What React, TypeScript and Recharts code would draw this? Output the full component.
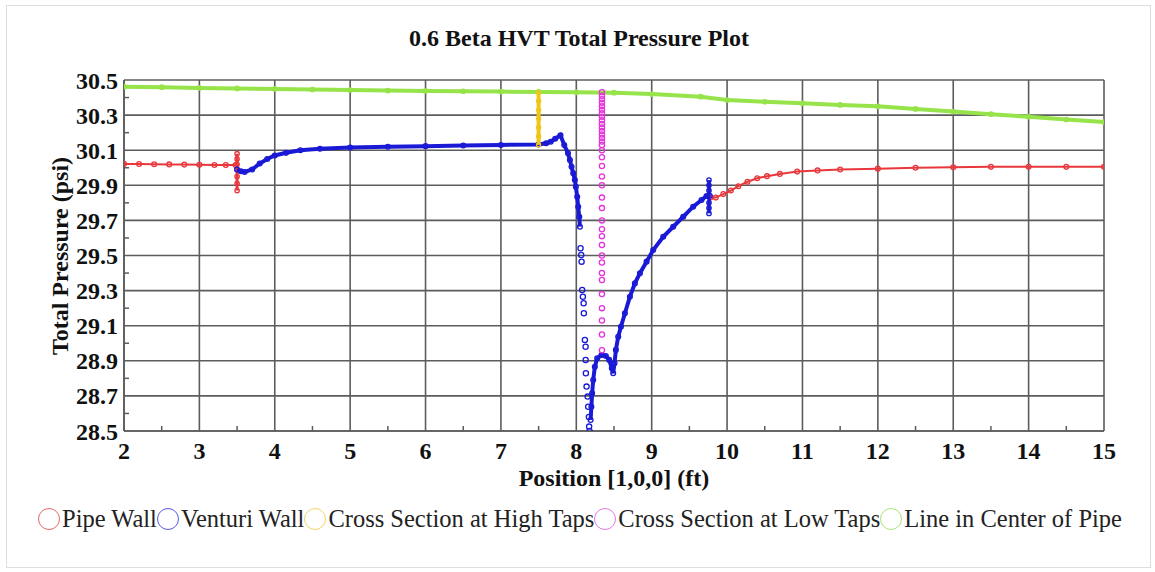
import { ScatterChart, Scatter, XAxis, YAxis, CartesianGrid } from "recharts";

const xTicks = [2, 3, 4, 5, 6, 7, 8, 9, 10, 11, 12, 13, 14, 15];
const xMinorTicks = [2.5, 3.5, 4.5, 5.5, 6.5, 7.5, 8.5, 9.5, 10.5, 11.5, 12.5, 13.5, 14.5];
const yTicks = [28.5, 28.7, 28.9, 29.1, 29.3, 29.5, 29.7, 29.9, 30.1, 30.3, 30.5];
const yMinorTicks = [28.6, 28.8, 29.0, 29.2, 29.4, 29.6, 29.8, 30.0, 30.2, 30.4];

const pipeWallUpstream = [
  { x: 2.0, y: 30.022 }, { x: 2.2, y: 30.021 }, { x: 2.4, y: 30.02 }, { x: 2.6, y: 30.019 },
  { x: 2.8, y: 30.018 }, { x: 3.0, y: 30.017 }, { x: 3.2, y: 30.016 }, { x: 3.35, y: 30.015 },
  { x: 3.48, y: 30.015 },
];
const pipeWallTap = [
  { x: 3.5, y: 30.08 }, { x: 3.5, y: 30.05 }, { x: 3.5, y: 30.02 }, { x: 3.5, y: 29.99 },
  { x: 3.5, y: 29.95 }, { x: 3.5, y: 29.91 }, { x: 3.5, y: 29.87 },
];
const pipeWallDownstream = [
  { x: 9.78, y: 29.83 }, { x: 9.85, y: 29.83 }, { x: 9.95, y: 29.85 }, { x: 10.05, y: 29.87 },
  { x: 10.15, y: 29.895 }, { x: 10.27, y: 29.92 }, { x: 10.4, y: 29.94 }, { x: 10.53, y: 29.952 },
  { x: 10.7, y: 29.965 }, { x: 10.93, y: 29.978 }, { x: 11.2, y: 29.985 }, { x: 11.5, y: 29.99 },
  { x: 12.0, y: 29.995 }, { x: 12.5, y: 30.0 }, { x: 13.0, y: 30.003 }, { x: 13.5, y: 30.005 },
  { x: 14.0, y: 30.005 }, { x: 14.5, y: 30.005 }, { x: 15.0, y: 30.005 },
];

const venturiInlet = [
  { x: 3.5, y: 29.99 }, { x: 3.55, y: 29.98 }, { x: 3.6, y: 29.976 }, { x: 3.7, y: 29.99 },
  { x: 3.8, y: 30.024 }, { x: 3.9, y: 30.05 }, { x: 4.0, y: 30.07 }, { x: 4.15, y: 30.085 },
  { x: 4.34, y: 30.1 }, { x: 4.6, y: 30.108 }, { x: 5.0, y: 30.115 }, { x: 5.5, y: 30.12 },
  { x: 6.0, y: 30.123 }, { x: 6.5, y: 30.127 }, { x: 7.0, y: 30.13 }, { x: 7.5, y: 30.133 },
  { x: 7.6, y: 30.14 }, { x: 7.66, y: 30.148 }, { x: 7.72, y: 30.165 }, { x: 7.79, y: 30.185 },
  { x: 7.84, y: 30.13 }, { x: 7.89, y: 30.082 }, { x: 7.915, y: 30.044 }, { x: 7.937, y: 30.006 },
  { x: 7.959, y: 29.968 }, { x: 7.981, y: 29.93 }, { x: 7.994, y: 29.892 }, { x: 8.012, y: 29.835 },
  { x: 8.025, y: 29.778 }, { x: 8.039, y: 29.721 }, { x: 8.048, y: 29.664 },
];
const venturiThroat = [
  { x: 8.056, y: 29.541 }, { x: 8.065, y: 29.503 }, { x: 8.07, y: 29.465 },
  { x: 8.078, y: 29.303 }, { x: 8.087, y: 29.265 }, { x: 8.097, y: 29.228 }, { x: 8.1, y: 29.171 },
  { x: 8.114, y: 29.019 }, { x: 8.123, y: 28.98 }, { x: 8.124, y: 28.905 }, { x: 8.127, y: 28.829 },
  { x: 8.136, y: 28.753 }, { x: 8.15, y: 28.696 }, { x: 8.158, y: 28.638 }, { x: 8.167, y: 28.58 },
  { x: 8.17, y: 28.525 }, { x: 8.175, y: 28.5 },
];
const venturiOutlet = [
  { x: 8.19, y: 28.563 }, { x: 8.2, y: 28.638 }, { x: 8.21, y: 28.715 }, { x: 8.224, y: 28.79 },
  { x: 8.246, y: 28.866 }, { x: 8.277, y: 28.914 }, { x: 8.335, y: 28.933 }, { x: 8.392, y: 28.927 },
  { x: 8.436, y: 28.905 }, { x: 8.471, y: 28.857 }, { x: 8.489, y: 28.829 }, { x: 8.507, y: 28.886 },
  { x: 8.525, y: 28.962 }, { x: 8.556, y: 29.037 }, { x: 8.592, y: 29.094 }, { x: 8.645, y: 29.171 },
  { x: 8.711, y: 29.265 }, { x: 8.777, y: 29.341 }, { x: 8.844, y: 29.399 }, { x: 8.932, y: 29.465 },
  { x: 9.02, y: 29.531 }, { x: 9.153, y: 29.607 }, { x: 9.285, y: 29.664 }, { x: 9.418, y: 29.721 },
  { x: 9.55, y: 29.778 }, { x: 9.661, y: 29.816 }, { x: 9.728, y: 29.839 }, { x: 9.77, y: 29.84 },
];
const venturiTap = [
  { x: 9.76, y: 29.93 }, { x: 9.76, y: 29.9 }, { x: 9.76, y: 29.87 }, { x: 9.76, y: 29.8 },
  { x: 9.76, y: 29.77 }, { x: 9.76, y: 29.74 },
];

const highTaps = [
  { x: 7.5, y: 30.43 }, { x: 7.5, y: 30.38 }, { x: 7.5, y: 30.33 }, { x: 7.5, y: 30.28 },
  { x: 7.5, y: 30.23 }, { x: 7.5, y: 30.18 }, { x: 7.5, y: 30.13 },
];

const lowTapsValues = [
  30.43, 30.41, 30.39, 30.37, 30.35, 30.33, 30.31, 30.29, 30.27, 30.25, 30.23, 30.21, 30.19,
  30.17, 30.15, 30.13, 30.1, 30.06, 30.01, 29.95, 29.9, 29.83, 29.77, 29.7, 29.65, 29.61, 29.56,
  29.5, 29.46, 29.4, 29.36, 29.28, 29.2, 29.13, 29.05, 28.96,
];
const lowTaps = lowTapsValues.map((y) => ({ x: 8.34, y }));

const centerLine = [
  { x: 2, y: 30.462 }, { x: 2.5, y: 30.459 }, { x: 3, y: 30.455 }, { x: 3.5, y: 30.452 },
  { x: 4, y: 30.449 }, { x: 4.5, y: 30.446 }, { x: 5, y: 30.443 }, { x: 5.5, y: 30.44 },
  { x: 6, y: 30.438 }, { x: 6.5, y: 30.436 }, { x: 7, y: 30.434 }, { x: 7.5, y: 30.432 },
  { x: 8, y: 30.43 }, { x: 8.5, y: 30.428 }, { x: 9, y: 30.42 }, { x: 9.65, y: 30.405 },
  { x: 10, y: 30.386 }, { x: 10.5, y: 30.376 }, { x: 11, y: 30.367 }, { x: 11.5, y: 30.358 },
  { x: 12, y: 30.35 }, { x: 12.5, y: 30.335 }, { x: 13, y: 30.32 }, { x: 13.5, y: 30.305 },
  { x: 14, y: 30.29 }, { x: 14.5, y: 30.275 }, { x: 15, y: 30.26 },
];

const RED = "#e8383c";
const BLUE = "#1a1ad6";
const GOLD = "#f2c414";
const MAGENTA = "#e632dc";
const GREEN = "#96e34a";
const GRID = "#5c5c5c";

const legendItems = [
  { label: "Pipe Wall", color: "#e46a6a" },
  { label: "Venturi Wall", color: "#5a5ae0" },
  { label: "Cross Section at High Taps", color: "#f0d66a" },
  { label: "Cross Section at Low Taps", color: "#e47ae0" },
  { label: "Line in Center of Pipe", color: "#a8e47a" },
];

const FONT = "'Liberation Serif', 'Times New Roman', serif";

const ring = (color: string, r: number, w: number) => (props: any) => (
  <circle cx={props.cx} cy={props.cy} r={r} fill="none" stroke={color} strokeWidth={w} />
);

const series = [
  { id: "pipeUp", data: pipeWallUpstream, color: RED, lineWidth: 2, r: 2.4 },
  { id: "pipeTap", data: pipeWallTap, color: RED, lineWidth: 3, r: 2.2 },
  { id: "pipeDown", data: pipeWallDownstream, color: RED, lineWidth: 2, r: 2.4 },
  { id: "ventIn", data: venturiInlet, color: BLUE, lineWidth: 4, r: 2.4 },
  { id: "ventThroat", data: venturiThroat, color: BLUE, lineWidth: 0, r: 2.6 },
  { id: "ventOut", data: venturiOutlet, color: BLUE, lineWidth: 4, r: 2.4 },
  { id: "ventTap", data: venturiTap, color: BLUE, lineWidth: 3.5, r: 2.2 },
  { id: "center", data: centerLine, color: GREEN, lineWidth: 4, r: 2.2 },
  { id: "high", data: highTaps, color: GOLD, lineWidth: 4, r: 2 },
  { id: "low", data: lowTaps, color: MAGENTA, lineWidth: 0, r: 2.6 },
];

const tickStyle = { fill: "#111", fontSize: 24, fontWeight: 700, fontFamily: FONT };
const noLabel = () => <g />;

export default function App() {
  return (
    <div style={{ position: "absolute", left: 0, top: 0, width: 1155, height: 572, background: "#fff", fontFamily: FONT }}>
      <div style={{ position: "absolute", left: 6, top: 5, width: 1143, height: 561, border: "1px solid #dedede" }} />
      <div style={{ position: "absolute", top: 25, left: 0, width: 1158, textAlign: "center", fontSize: 24, fontWeight: 700, color: "#111" }}>
        0.6 Beta HVT Total Pressure Plot
      </div>
      <ScatterChart width={1155} height={572} margin={{ top: 80, right: 51, bottom: 111, left: 54 }}>
        <CartesianGrid stroke={GRID} strokeWidth={1.6} />
        <XAxis
          type="number"
          dataKey="x"
          domain={[2, 15]}
          ticks={xTicks}
          interval={0}
          height={30}
          tickLine={false}
          tickSize={4}
          tickMargin={7}
          axisLine={{ stroke: GRID, strokeWidth: 1.6 }}
          tick={tickStyle}
          allowDataOverflow
        />
        <XAxis
          xAxisId="minor"
          type="number"
          dataKey="x"
          domain={[2, 15]}
          ticks={xMinorTicks}
          interval={0}
          mirror
          axisLine={false}
          tickSize={5}
          tickLine={{ stroke: GRID, strokeWidth: 1.5 }}
          tick={noLabel}
          allowDataOverflow
        />
        <YAxis
          type="number"
          dataKey="y"
          domain={[28.5, 30.5]}
          ticks={yTicks}
          interval={0}
          width={70}
          tickLine={false}
          tickSize={4}
          tickMargin={2}
          axisLine={{ stroke: GRID, strokeWidth: 1.6 }}
          tick={tickStyle}
          tickFormatter={(v: number) => v.toFixed(1)}
          allowDataOverflow
        />
        <YAxis
          yAxisId="minor"
          type="number"
          dataKey="y"
          domain={[28.5, 30.5]}
          ticks={yMinorTicks}
          interval={0}
          mirror
          axisLine={false}
          tickSize={5}
          tickLine={{ stroke: GRID, strokeWidth: 1.5 }}
          tick={noLabel}
          allowDataOverflow
        />
        {series.map((s) => (
          <Scatter
            key={s.id}
            data={s.data}
            shape={ring(s.color, s.r, 1.3)}
            line={s.lineWidth > 0 ? { stroke: s.color, strokeWidth: s.lineWidth } : false}
            lineType="joint"
            isAnimationActive={false}
          />
        ))}
      </ScatterChart>
      <div
        style={{
          position: "absolute",
          left: 60,
          top: 256,
          transform: "translate(-50%, -50%) rotate(-90deg)",
          whiteSpace: "nowrap",
          fontSize: 24,
          fontWeight: 700,
          color: "#111",
        }}
      >
        Total Pressure (psi)
      </div>
      <div style={{ position: "absolute", top: 465, left: 124, width: 980, textAlign: "center", fontSize: 24, fontWeight: 700, color: "#111" }}>
        Position [1,0,0] (ft)
      </div>
      <div style={{ position: "absolute", top: 505, left: 0, width: 1160, display: "flex", justifyContent: "center", fontSize: 24.5, color: "#222" }}>
        {legendItems.map((it) => (
          <div key={it.label} style={{ display: "flex", alignItems: "center" }}>
            <span
              style={{
                display: "inline-block",
                width: 20,
                height: 20,
                borderRadius: "50%",
                border: `1.5px solid ${it.color}`,
                marginRight: 2,
              }}
            />
            <span>{it.label}</span>
          </div>
        ))}
      </div>
    </div>
  );
}
